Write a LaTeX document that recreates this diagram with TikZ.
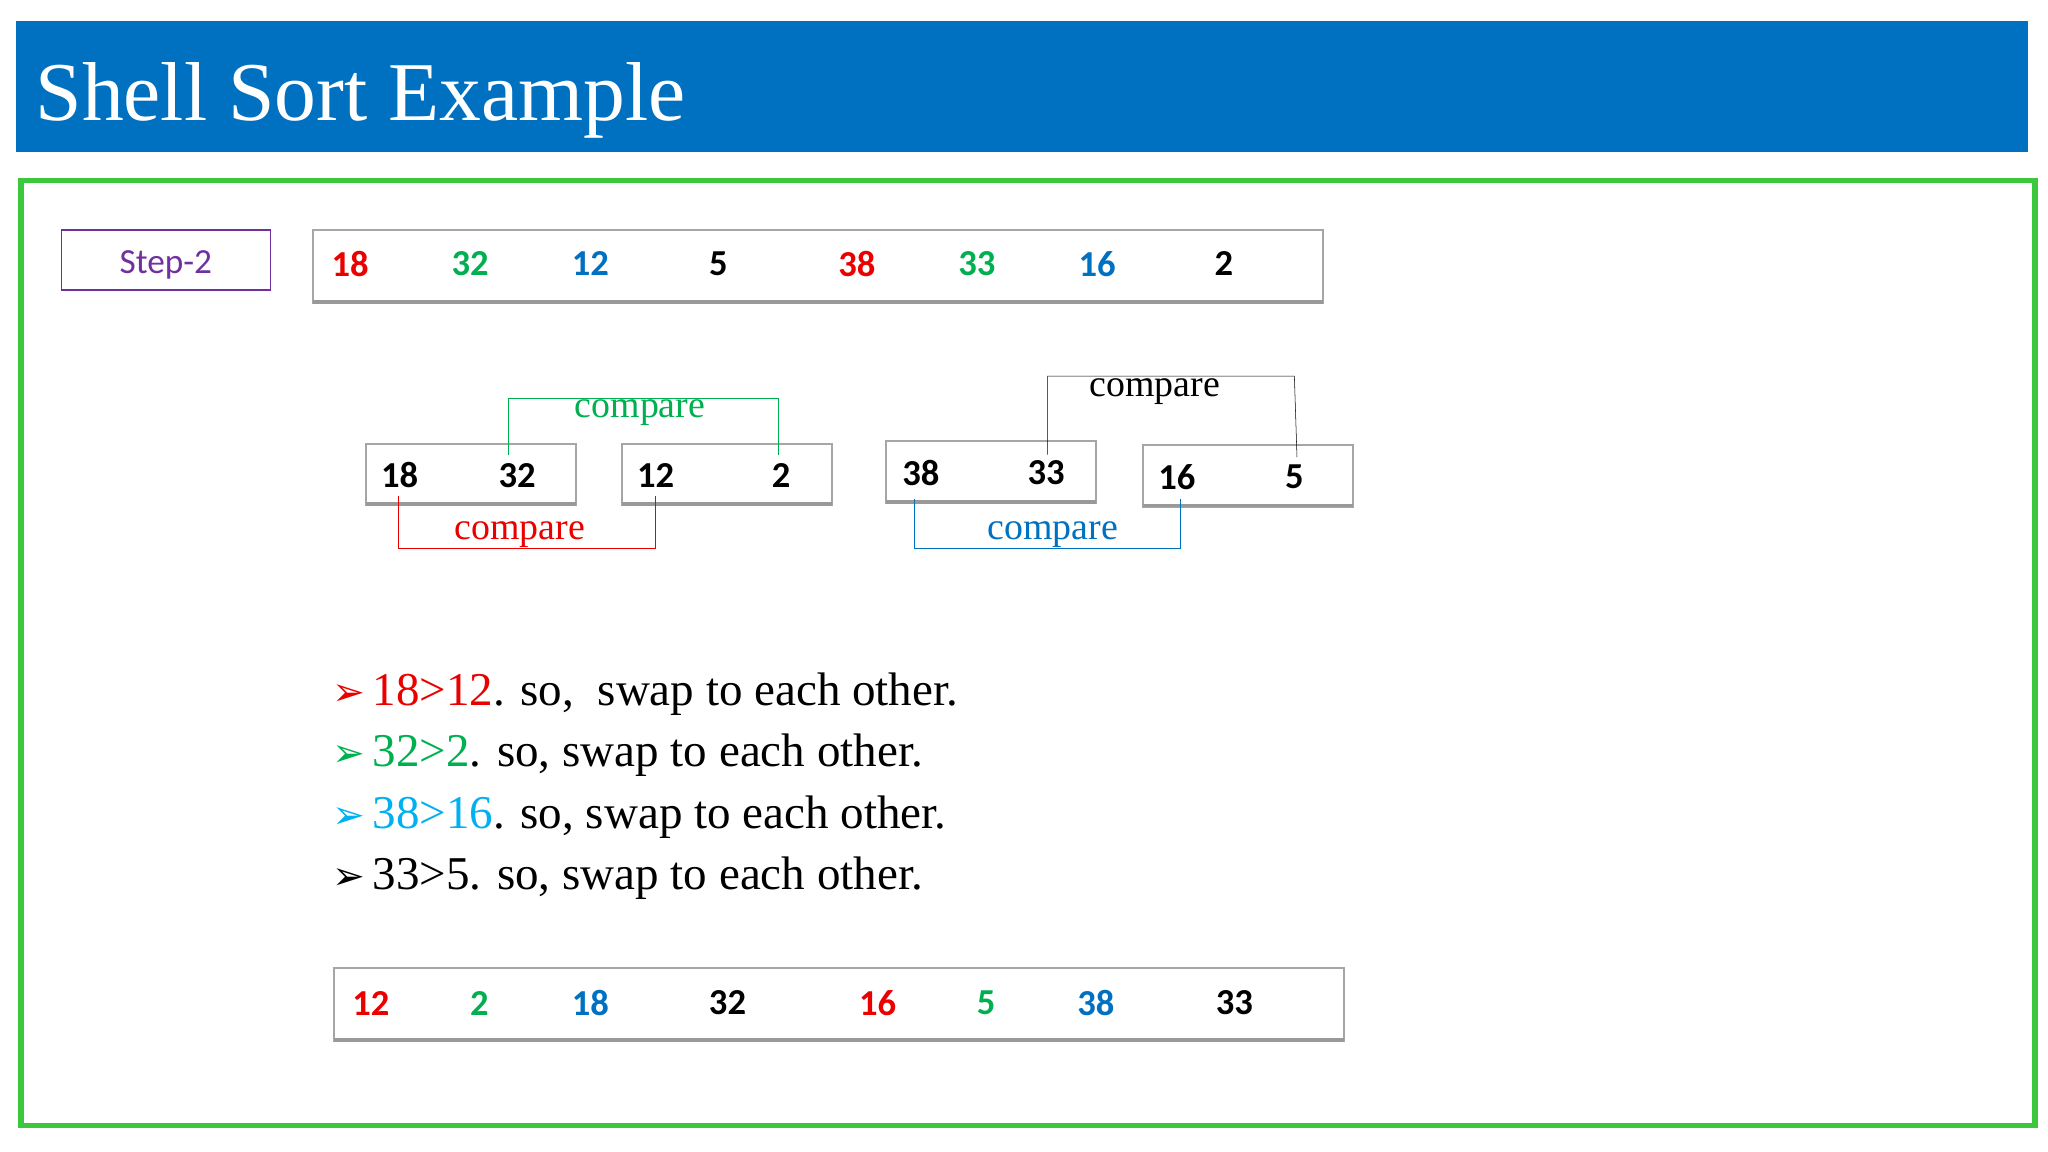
\documentclass[tikz,border=0pt]{standalone}
\usepackage{fontspec}
\setmainfont{Liberation Serif}
\newfontfamily\numfont{Carlito}
\newfontfamily\symfont{DejaVu Sans}
\definecolor{banner}{RGB}{0, 112, 192}
\definecolor{frame}{RGB}{60, 200, 60}
\definecolor{cred}{RGB}{235, 0, 0}
\definecolor{cgreen}{RGB}{0, 176, 80}
\definecolor{cblue}{RGB}{0, 112, 192}
\definecolor{clight}{RGB}{0, 176, 240}
\definecolor{cpurple}{RGB}{112, 48, 160}
\tikzset{
  num/.style={font=\numfont\bfseries\fontsize{28}{30}\selectfont, anchor=center},
  cmp/.style={font=\fontsize{29}{31}\selectfont, inner sep=0pt},
  line/.style={font=\fontsize{36}{38}\selectfont, anchor=base west, inner sep=0pt},
  arr/.style={draw=gray!70, line width=1.5pt},
  pair/.style={draw=gray!70, line width=1.5pt},
}
\begin{document}
\begin{tikzpicture}[x=1pt, y=-1pt]
	\useasboundingbox (0,0) rectangle (1568,882);
	\fill[white] (0,0) rectangle (1568,882);
	\fill[banner] (12,16) rectangle (1553,116);
	\node[anchor=base west, text=white, font=\fontsize{64}{66}\selectfont, inner sep=0pt] (title) at (27,92) {Shell Sort Example};
	\draw[frame, line width=4pt] (16,138) rectangle (1558,862);
	\draw[cpurple, line width=1.2pt] (47,176) rectangle (207,222);
	\node[text=cpurple, font=\numfont\fontsize{27}{29}\selectfont] (step) at (127,203) {Step-2};
	% first array
	\draw[arr] (240,176) rectangle (1013,232);
	\draw[gray!80, line width=3pt] (240,231) -- (1013,231);
	\node[num, cred] (t1) at (268,202) {18};
	\node[num, cgreen] (t2) at (360,202) {32};
	\node[num, cblue] (t3) at (452,202) {12};
	\node[num] (t4) at (550,202) {5};
	\node[num, cred] (t5) at (656,202) {38};
	\node[num, cgreen] (t6) at (748,202) {33};
	\node[num, cblue] (t7) at (840,202) {16};
	\node[num] (t8) at (937,202) {2};
	% pairs
	\draw[pair] (280,340) rectangle (441,387);
	\draw[pair] (476,340) rectangle (637,387);
	\draw[pair] (678,338) rectangle (839,385);
	\draw[pair] (875,341) rectangle (1036,388);
	\draw[gray!80, line width=3pt] (280,386) -- (441,386) (476,386) -- (637,386) (678,384) -- (839,384) (875,387) -- (1036,387);
	\node[num] (p1) at (306,364) {18};
	\node[num] (p2) at (396,364) {32};
	\node[num] (p3) at (502,364) {12};
	\node[num] (p4) at (598,364) {2};
	\node[num] (p5) at (705,362) {38};
	\node[num] (p6) at (801,362) {33};
	\node[num] (p7) at (901,365) {16};
	\node[num] (p8) at (991,365) {5};
	% compare brackets
	\coordinate (g1) at (389,348); \coordinate (g2) at (596,348);
	\draw[cgreen] (g1) -- (389,305) -- (596,305) -- (g2);
	\node[cmp, text=cgreen] (cg) at (490,316) {compare};
	\coordinate (r1) at (305,380); \coordinate (r2) at (502,380);
	\draw[cred] (r1) -- (305,420) -- (502,420) -- (r2);
	\node[cmp, text=cred] (cr) at (398,409) {compare};
	\coordinate (k1) at (802,348); \coordinate (k2) at (993,350);
	\draw[black] (k1) -- (802,288) -- (991,288) -- (k2);
	\node[cmp] (ck) at (884,300) {compare};
	\coordinate (b1) at (700,382); \coordinate (b2) at (904,382);
	\draw[cblue] (b1) -- (700,420) -- (904,420) -- (b2);
	\node[cmp, text=cblue] (cb) at (806,409) {compare};
	% statements
	\node[line] (s1) at (254,540) {{\symfont\color{cred}\fontsize{30}{32}\selectfont ➢}\,\textcolor{cred}{18>12}. so,\ \ swap to each other.};
	\node[line] (s2) at (254,587) {{\symfont\color{cgreen}\fontsize{30}{32}\selectfont ➢}\,\textcolor{cgreen}{32>2}. so, swap to each other.};
	\node[line] (s3) at (254,634) {{\symfont\color{clight}\fontsize{30}{32}\selectfont ➢}\,\textcolor{clight}{38>16}. so, swap to each other.};
	\node[line] (s4) at (254,681) {{\symfont\fontsize{30}{32}\selectfont ➢}\,33>5. so, swap to each other.};
	% result array
	\draw[arr] (256,741) rectangle (1029,797);
	\draw[gray!80, line width=3pt] (256,796) -- (1029,796);
	\node[num, cred] (u1) at (284,768) {12};
	\node[num, cgreen] (u2) at (367,768) {2};
	\node[num, cblue] (u3) at (452,768) {18};
	\node[num] (u4) at (557,768) {32};
	\node[num, cred] (u5) at (672,768) {16};
	\node[num, cgreen] (u6) at (755,768) {5};
	\node[num, cblue] (u7) at (839,768) {38};
	\node[num] (u8) at (945,768) {33};
\end{tikzpicture}
\end{document}
